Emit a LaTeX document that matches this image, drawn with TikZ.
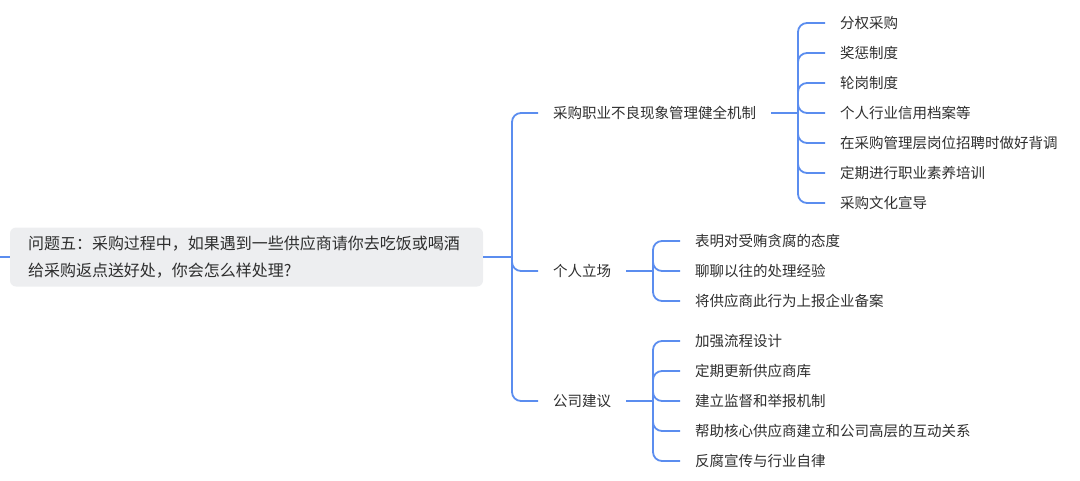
\documentclass[tikz,border=0pt]{standalone}
\usepackage{fontspec}
\setmainfont{Noto Sans CJK SC}
\definecolor{lineblue}{HTML}{5B8DEF}
\definecolor{rootfill}{HTML}{EDEEF0}
\definecolor{txt}{HTML}{2E2E2E}
\begin{document}
\begin{tikzpicture}[x=1pt,y=-1pt,
  conn/.style={draw=lineblue, line width=1.8pt, rounded corners=9pt},
  rootbox/.style={fill=rootfill, rounded corners=6pt, minimum height=59pt, text width=437pt, inner xsep=18pt, inner ysep=0pt, align=left, text=txt, font=\fontsize{16}{27}\selectfont},
  lvl/.style={anchor=west, inner xsep=15pt, inner ysep=2pt, text=txt, font=\fontsize{14.5}{17}\selectfont}
]
\useasboundingbox (0,0) rectangle (1080,480);
% root
\node[rootbox] (root) at (246.5,257) {问题五：采购过程中，如果遇到一些供应商请你去吃饭或喝酒\\给采购返点送好处，你会怎么样处理?};
\coordinate (in) at (0,257);
\draw[conn] (in) -- (root.west);
\coordinate (j0) at (512,257);
\draw[conn] (root.east) -- (j0);
% level 1
\node[lvl] (a) at (538,113) {采购职业不良现象管理健全机制};
\node[lvl] (b) at (538,271) {个人立场};
\node[lvl] (c) at (538,401) {公司建议};
\foreach \n in {a,b,c} \draw[conn] (j0) |- (\n.west);
% group a
\coordinate (ja) at (798,113);
\draw[conn] (a.east) -- (ja);
\node[lvl] (a1) at (825,23) {分权采购};
\node[lvl] (a2) at (825,53) {奖惩制度};
\node[lvl] (a3) at (825,83) {轮岗制度};
\node[lvl] (a4) at (825,113) {个人行业信用档案等};
\node[lvl] (a5) at (825,143) {在采购管理层岗位招聘时做好背调};
\node[lvl] (a6) at (825,173) {定期进行职业素养培训};
\node[lvl] (a7) at (825,203) {采购文化宣导};
\foreach \n in {a1,a2,a3,a4,a5,a6,a7} \draw[conn] (ja) |- (\n.west);
% group b
\coordinate (jb) at (653,271);
\draw[conn] (b.east) -- (jb);
\node[lvl] (b1) at (680,241) {表明对受贿贪腐的态度};
\node[lvl] (b2) at (680,271) {聊聊以往的处理经验};
\node[lvl] (b3) at (680,301) {将供应商此行为上报企业备案};
\foreach \n in {b1,b2,b3} \draw[conn] (jb) |- (\n.west);
% group c
\coordinate (jc) at (653,401);
\draw[conn] (c.east) -- (jc);
\node[lvl] (c1) at (680,341) {加强流程设计};
\node[lvl] (c2) at (680,371) {定期更新供应商库};
\node[lvl] (c3) at (680,401) {建立监督和举报机制};
\node[lvl] (c4) at (680,431) {帮助核心供应商建立和公司高层的互动关系};
\node[lvl] (c5) at (680,461) {反腐宣传与行业自律};
\foreach \n in {c1,c2,c3,c4,c5} \draw[conn] (jc) |- (\n.west);
\end{tikzpicture}
\end{document}
